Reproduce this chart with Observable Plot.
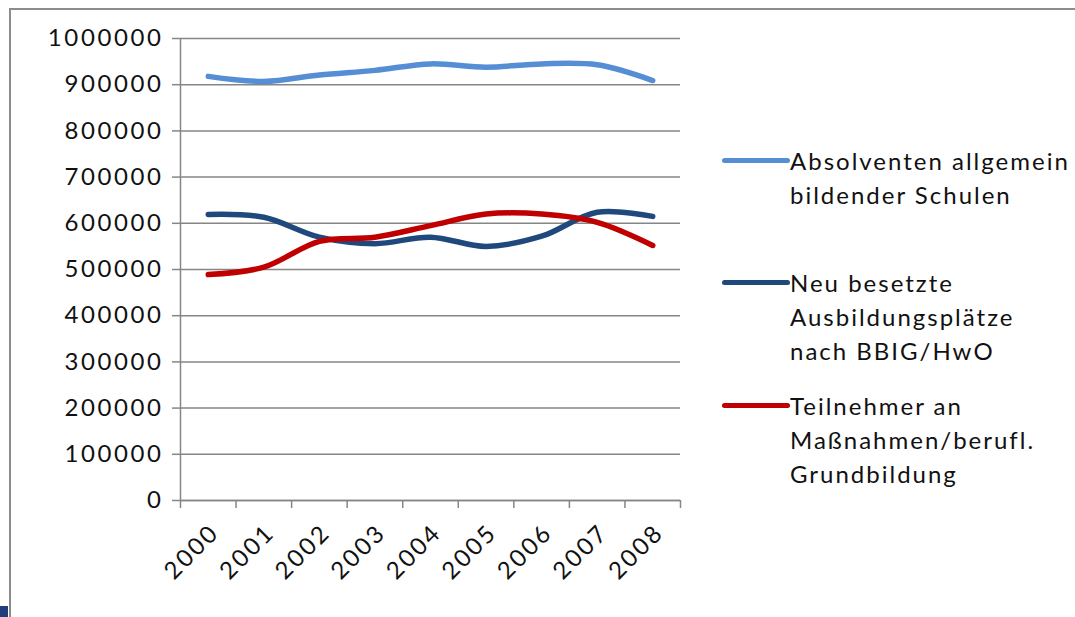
<!DOCTYPE html>
<html><head><meta charset="utf-8">
<script src="https://cdn.jsdelivr.net/npm/d3@7"></script>
<script src="https://cdn.jsdelivr.net/npm/@observablehq/plot@0.6"></script>
<style>
body{margin:0;background:#fff;}
#wrap{position:relative;width:1075px;height:617px;overflow:hidden;font-family:Lato,sans-serif;background:#fff;}
#frame{position:absolute;left:9px;top:8px;width:1100px;height:700px;border-left:2px solid #8c8c8c;border-top:2px solid #8c8c8c;}
#corner{position:absolute;left:0;top:606px;width:8px;height:11px;background:#1f3f7a;}
#chart{position:absolute;left:0;top:0;}
#chart svg text{letter-spacing:2.6px;}
#legend{position:absolute;left:722px;top:0;width:353px;height:617px;}
.item{position:absolute;left:0;width:353px;}
.key{position:absolute;left:0;top:14px;width:68px;height:5px;border-radius:3px;}
.lab{position:absolute;left:68px;top:0;font-size:24px;line-height:34px;color:#111;letter-spacing:2px;white-space:nowrap;}
</style>
</head><body>
<div id="wrap">
  <div id="frame"></div>
  <div id="corner"></div>
  <div id="chart"></div>
  <div id="legend"></div>
</div>
<script>
const years = [2000, 2001, 2002, 2003, 2004, 2005, 2006, 2007, 2008];
const absolventen = [918000, 907000, 921000, 931000, 945000, 938000, 945000, 943000, 909000];
const neuBesetzt = [619000, 613000, 570000, 556000, 570000, 550000, 572000, 624000, 615000];
const teilnehmer = [489000, 505000, 561000, 570000, 595000, 620000, 620000, 602000, 552000];
const yTicks = [0, 100000, 200000, 300000, 400000, 500000, 600000, 700000, 800000, 900000, 1000000];
const seriesNames = ["Absolventen allgemein\nbildender Schulen", "Neu besetzte\nAusbildungsplätze\nnach BBIG/HwO", "Teilnehmer an\nMaßnahmen/berufl.\nGrundbildung"];
const seriesColors = ["#558ed5", "#1f497d", "#c00000"];
const seriesValues = [absolventen, neuBesetzt, teilnehmer];

const data = [];
seriesValues.forEach((vals, s) => vals.forEach((v, i) => data.push({year: years[i], value: v, series: s})));
const bounds = years.map(y => y - 0.5).concat([years[years.length - 1] + 0.5]);

const gray = "#868686";
const chart = Plot.plot({
  width: 700,
  height: 617,
  marginLeft: 180,
  marginRight: 20,
  marginTop: 38,
  marginBottom: 117,
  style: {fontFamily: "Lato, sans-serif", fontSize: "24px", color: "#111", background: "transparent"},
  x: {type: "linear", domain: [bounds[0], bounds[bounds.length - 1]]},
  y: {domain: [0, 1000000]},
  marks: [
    Plot.gridY(yTicks, {stroke: gray, strokeOpacity: 1, strokeWidth: 1.5}),
    Plot.axisY(yTicks, {tickSize: 8, tickPadding: 9, tickFormat: d => String(d), label: null, stroke: gray, strokeWidth: 1.5}),
    Plot.ruleX([bounds[0]], {stroke: gray, strokeWidth: 1.5}),
    Plot.ruleY([0], {stroke: gray, strokeWidth: 1.5}),
    Plot.axisX(bounds, {tickSize: 8, tickFormat: () => "", label: null, stroke: gray, strokeWidth: 1.5}),
    Plot.axisX(years, {tickSize: 0, tickPadding: 28, dx: 7, tickRotate: -45, tickFormat: d => String(d), label: null}),
    Plot.line(data, {x: "year", y: "value", z: "series", stroke: d => seriesColors[d.series], strokeWidth: 5.5, curve: "catmull-rom", strokeLinecap: "round", strokeLinejoin: "round"})
  ]
});
document.getElementById("chart").appendChild(chart);

const tops = [144, 266, 389];
const legend = document.getElementById("legend");
seriesNames.forEach((name, i) => {
  const item = document.createElement("div");
  item.className = "item";
  item.style.top = tops[i] + "px";
  const key = document.createElement("div");
  key.className = "key";
  key.style.background = seriesColors[i];
  const lab = document.createElement("div");
  lab.className = "lab";
  lab.innerHTML = name.split("\n").join("<br>");
  item.appendChild(key);
  item.appendChild(lab);
  legend.appendChild(item);
});
</script>
</body></html>
